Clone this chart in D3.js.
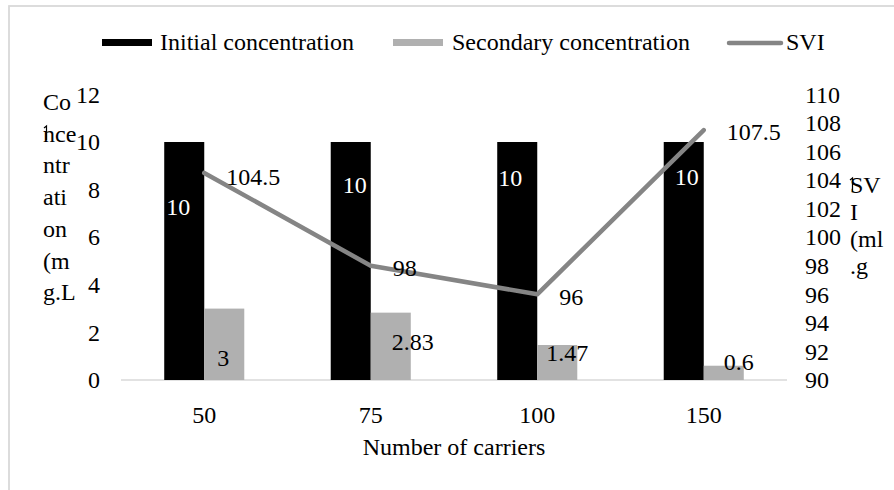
<!DOCTYPE html>
<html>
<head>
<meta charset="utf-8">
<script src="https://cdn.jsdelivr.net/npm/d3@7"></script>
<style>
  html, body { margin: 0; padding: 0; background: #fff; }
  svg { display: block; }
  svg text { font-family: "Liberation Serif", "Times New Roman", serif; fill: #000; }
</style>
</head>
<body>
<svg id="chart" width="894" height="490"></svg>
<script>
// Carrier counts and measured values
const carriers = ["50", "75", "100", "150"];
const initialConc = [10, 10, 10, 10];
const secondaryConc = [3, 2.83, 1.47, 0.6];
const svi = [104.5, 98, 96, 107.5];

const concTicks = [0, 2, 4, 6, 8, 10, 12];
const sviTicks = [90, 92, 94, 96, 98, 100, 102, 104, 106, 108, 110];

const seriesNames = ["Initial concentration", "Secondary concentration", "SVI"];
const leftTitleLines = ["Co", "nce", "ntr", "ati", "on", "(m", "g.L"];
const rightTitleLines = ["SV", "I", "(ml", ".g"];

// Hand-placed data label nudges (dx, dy) from each mark's anchor
const initLabelNudge = [[-6, 65], [4, 43], [-7, 36], [3, 35]];
const secLabelNudge = [[-1, 49], [22, 29], [10, 8], [15, -4]];
const sviLabelNudge = [[49, 4], [34, 2], [34, 3], [50, 2]];

const FONT = "Liberation Serif";
const FS = 24;
const colors = { initial: "#000000", secondary: "#b0b0b0", svi: "#858585", axis: "#d9d9d9" };

const svg = d3.select("#chart").attr("font-family", FONT);

// Chart frame
svg.append("rect")
  .attr("x", 9).attr("y", 6).attr("width", 900).attr("height", 500)
  .attr("fill", "none").attr("stroke", colors.axis).attr("stroke-width", 1.8);

const plot = { left: 121, right: 787, top: 94.4, bottom: 380 };

const x = d3.scaleBand().domain(carriers).range([plot.left, plot.right]).padding(0);
const xInner = d3.scaleBand().domain(["initial", "secondary"])
  .range([0, x.bandwidth()]).paddingInner(0).paddingOuter(1.08);
const yL = d3.scaleLinear().domain([0, 12]).range([plot.bottom, plot.top]);
const yR = d3.scaleLinear().domain([90, 110]).range([plot.bottom, plot.top]);

// Category axis line
svg.append("line")
  .attr("x1", plot.left).attr("x2", plot.right)
  .attr("y1", yL(0)).attr("y2", yL(0))
  .attr("stroke", colors.axis).attr("stroke-width", 1.6);

function styleAxis(g) {
  g.attr("font-family", FONT).attr("font-size", FS);
  g.select(".domain").remove();
  g.selectAll("text").attr("fill", "#000");
}

// Left axis
svg.append("g").attr("transform", `translate(100,0)`)
  .call(d3.axisLeft(yL).tickValues(concTicks).tickSize(0).tickPadding(0))
  .call(styleAxis)
  .selectAll("text").attr("dy", "0.32em");

// Right axis
svg.append("g").attr("transform", `translate(805,0)`)
  .call(d3.axisRight(yR).tickValues(sviTicks).tickSize(0).tickPadding(0))
  .call(styleAxis)
  .selectAll("text").attr("dy", "0.32em");

// Bottom axis labels
svg.append("g").attr("transform", `translate(0,${yL(0)})`)
  .call(d3.axisBottom(x).tickSize(0).tickPadding(0))
  .call(styleAxis)
  .selectAll("text").attr("y", 0).attr("dy", 43);

// Bars
const groups = svg.append("g").selectAll("g").data(carriers).join("g")
  .attr("transform", d => `translate(${x(d)},0)`);

groups.append("rect")
  .attr("x", xInner("initial")).attr("width", xInner.bandwidth())
  .attr("y", (d, i) => yL(initialConc[i]))
  .attr("height", (d, i) => yL(0) - yL(initialConc[i]))
  .attr("fill", colors.initial);

groups.append("rect")
  .attr("x", xInner("secondary")).attr("width", xInner.bandwidth())
  .attr("y", (d, i) => yL(secondaryConc[i]))
  .attr("height", (d, i) => yL(0) - yL(secondaryConc[i]))
  .attr("fill", colors.secondary);

// SVI line
const line = d3.line()
  .x((d, i) => x(carriers[i]) + x.bandwidth() / 2)
  .y(d => yR(d));
svg.append("path").datum(svi)
  .attr("d", line).attr("fill", "none")
  .attr("stroke", colors.svi).attr("stroke-width", 4.5)
  .attr("stroke-linejoin", "round").attr("stroke-linecap", "round");

// Data labels
const labels = svg.append("g").attr("font-size", FS).attr("text-anchor", "middle");

initialConc.forEach((v, i) => {
  const cx = x(carriers[i]) + xInner("initial") + xInner.bandwidth() / 2;
  labels.append("text")
    .attr("x", cx + initLabelNudge[i][0]).attr("y", yL(v) + initLabelNudge[i][1])
    .attr("dy", "0.34em").style("fill", "#fff").text(v);
});
secondaryConc.forEach((v, i) => {
  const cx = x(carriers[i]) + xInner("secondary") + xInner.bandwidth() / 2;
  labels.append("text")
    .attr("x", cx + secLabelNudge[i][0]).attr("y", yL(v) + secLabelNudge[i][1])
    .attr("dy", "0.34em").text(v);
});
svi.forEach((v, i) => {
  const cx = x(carriers[i]) + x.bandwidth() / 2;
  labels.append("text")
    .attr("x", cx + sviLabelNudge[i][0]).attr("y", yR(v) + sviLabelNudge[i][1])
    .attr("dy", "0.34em").text(v);
});

// Axis titles (wrapped narrowly)
const leftTitle = svg.append("text").attr("font-size", FS);
leftTitleLines.forEach((t, i) => {
  leftTitle.append("tspan").attr("x", 43).attr("y", 110 + i * 31.7).text(t);
});
const rightTitle = svg.append("text").attr("font-size", FS);
rightTitleLines.forEach((t, i) => {
  rightTitle.append("tspan").attr("x", 850).attr("y", 193 + i * 27).text(t);
});

// Clipped superscript stubs poking out of the wrapped titles
const stub = "M0,0 l2.5,-2 v14";
svg.append("path").attr("d", stub).attr("transform", "translate(44,128)")
  .attr("fill", "none").attr("stroke", "#000").attr("stroke-width", 1.2);
svg.append("path").attr("d", stub).attr("transform", "translate(850,180)")
  .attr("fill", "none").attr("stroke", "#000").attr("stroke-width", 1.2);

svg.append("text")
  .attr("x", (plot.left + plot.right) / 2).attr("y", 455)
  .attr("text-anchor", "middle").attr("font-size", FS)
  .text("Number of carriers");

// Legend
const legend = svg.append("g").attr("font-size", FS);
legend.append("rect").attr("x", 102).attr("y", 39).attr("width", 50).attr("height", 7).attr("fill", colors.initial);
legend.append("text").attr("x", 160).attr("y", 50).text(seriesNames[0]);
legend.append("rect").attr("x", 393).attr("y", 39).attr("width", 50).attr("height", 7).attr("fill", colors.secondary);
legend.append("text").attr("x", 452).attr("y", 50).text(seriesNames[1]);
legend.append("line").attr("x1", 729).attr("x2", 781).attr("y1", 43).attr("y2", 43)
  .attr("stroke", colors.svi).attr("stroke-width", 4.5).attr("stroke-linecap", "round");
legend.append("text").attr("x", 786).attr("y", 50).text(seriesNames[2]);
</script>
</body>
</html>
